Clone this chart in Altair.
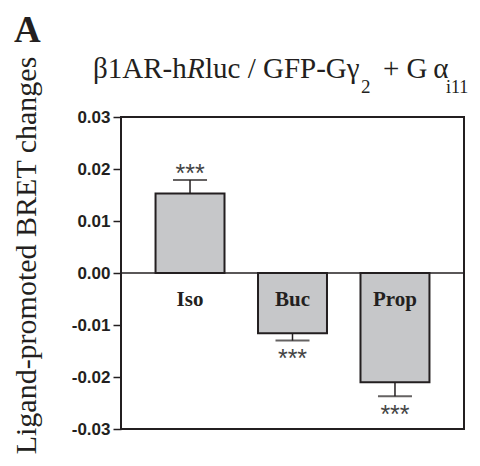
import altair as alt
import pandas as pd

categories = ["Iso", "Buc", "Prop"]
values = [0.0153, -0.0116, -0.0210]
errors = [0.0026, 0.0014, 0.0027]
stars = ["***", "***", "***"]
y_ticks = [-0.03, -0.02, -0.01, 0.0, 0.01, 0.02, 0.03]

df = pd.DataFrame({"cat": categories, "value": values, "err": errors, "stars": stars})
df["end"] = df["value"] + df["err"] * df["value"].apply(lambda v: 1 if v >= 0 else -1)

INK = "#231f20"
SERIF = "Liberation Serif"
SANS = "Liberation Sans"

x = alt.X("cat:N", sort=categories, axis=None,
          scale=alt.Scale(paddingInner=0.327, paddingOuter=0.337))
yscale = alt.Scale(domain=[-0.03, 0.03], nice=False, zero=False)
y = alt.Y("value:Q", scale=yscale,
          axis=alt.Axis(values=y_ticks, domain=False, grid=False,
                        labelExpr="datum.value < 0 ? '-' + format(abs(datum.value), '.2f') : format(datum.value, '.2f')",
                        labelFont=SANS, labelFontSize=17, labelFontWeight="bold", labelColor=INK,
                        labelPadding=3, tickSize=8, tickColor=INK, tickWidth=1.5,
                        title="Ligand-promoted BRET changes", titleFont=SERIF, titleFontSize=30,
                        titleFontWeight="normal", titleColor=INK, titleAngle=-90,
                        titleX=-86, titleY=138, titleAlign="center", titleBaseline="alphabetic"))

base = alt.Chart(df)

bars = base.mark_bar(fill="#c6c7c9", stroke=INK, strokeWidth=2).encode(x=x, y=y)
err_line = base.mark_rule(color=INK, strokeWidth=1.5).encode(x=x, y=alt.Y("value:Q", scale=yscale), y2="end:Q")
caps = base.mark_tick(color=INK, thickness=2, size=34).encode(x=x, y=alt.Y("end:Q", scale=yscale))
stars_pos = base.transform_filter("datum.value >= 0").mark_text(
    font=SANS, fontSize=25, color="#444444", baseline="alphabetic", dy=2.5
).encode(x=x, y=alt.Y("end:Q", scale=yscale), text="stars:N")
stars_neg = base.transform_filter("datum.value < 0").mark_text(
    font=SANS, fontSize=25, color="#444444", baseline="alphabetic", dy=26.5
).encode(x=x, y=alt.Y("end:Q", scale=yscale), text="stars:N")
labels = base.mark_text(font=SERIF, fontSize=21, fontWeight="bold", color=INK,
                        baseline="alphabetic", dy=33).encode(x=x, y=alt.datum(0), text="cat:N")
zero = alt.Chart(pd.DataFrame({"z": [0.0]})).mark_rule(color=INK, strokeWidth=1.5).encode(
    y=alt.Y("z:Q", scale=yscale))


def annot(text, xpos, ypos, size, weight="normal", style="normal"):
    return alt.Chart(pd.DataFrame({"t": [text]})).mark_text(
        font=SERIF, fontSize=size, fontWeight=weight, fontStyle=style, color=INK,
        align="left", baseline="alphabetic"
    ).encode(x=alt.value(xpos), y=alt.value(ypos), text="t:N")


panel = annot("A", -107, -75, 37, weight="bold")
t1 = annot("β1AR-h", -28, -39, 29)
t2 = annot("R", 66, -39, 29, style="italic")
t3 = annot("luc / GFP-Gγ", 84, -39, 29)
t4 = annot("2", 240, -24, 19)
t5 = annot("+ G\u2009α", 262, -39, 29)
t6 = annot("i11", 325, -24, 18)

chart = alt.layer(zero, bars, err_line, caps, stars_pos, stars_neg, labels,
                  panel, t1, t2, t3, t4, t5, t6).properties(
    width=343, height=312,
    autosize=alt.AutoSizeParams(type="none"),
    padding={"left": 113, "top": 109, "right": 8, "bottom": 29},
).configure(background="white").configure_view(stroke=INK, strokeWidth=2)

chart.save("out.html", embed_options={"renderer": "svg", "actions": False})
